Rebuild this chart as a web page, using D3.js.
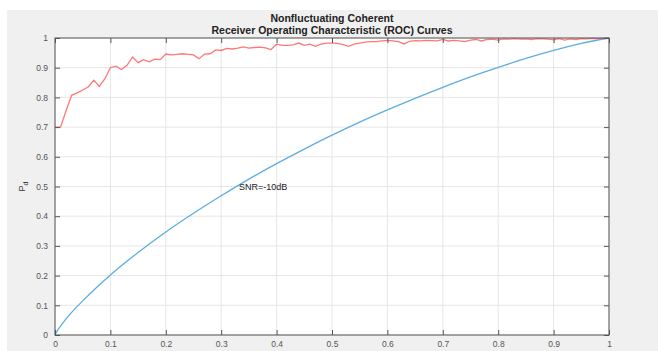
<!DOCTYPE html>
<html>
<head>
<meta charset="utf-8">
<script src="https://cdn.jsdelivr.net/npm/d3@7"></script>
<style>
  body { margin: 0; background: #fff; }
  text { font-family: "Liberation Sans", Arial, sans-serif; }
</style>
</head>
<body>
<div id="chart"></div>
<script>
// Red curve: simulated Pd vs Pfa
var pfaSim = [0.00, 0.01, 0.02, 0.03, 0.04, 0.05, 0.06, 0.07, 0.08, 0.09,
  0.10, 0.11, 0.12, 0.13, 0.14, 0.15, 0.16, 0.17, 0.18, 0.19,
  0.20, 0.21, 0.22, 0.23, 0.24, 0.25, 0.26, 0.27, 0.28, 0.29,
  0.30, 0.31, 0.32, 0.33, 0.34, 0.35, 0.36, 0.37, 0.38, 0.39,
  0.40, 0.41, 0.42, 0.43, 0.44, 0.45, 0.46, 0.47, 0.48, 0.49,
  0.50, 0.51, 0.52, 0.53, 0.54, 0.55, 0.56, 0.57, 0.58, 0.59,
  0.60, 0.61, 0.62, 0.63, 0.64, 0.65, 0.66, 0.67, 0.68, 0.69,
  0.70, 0.71, 0.72, 0.73, 0.74, 0.75, 0.76, 0.77, 0.78, 0.79,
  0.80, 0.81, 0.82, 0.83, 0.84, 0.85, 0.86, 0.87, 0.88, 0.89,
  0.90, 0.91, 0.92, 0.93, 0.94, 0.95, 0.96, 0.97, 0.98, 0.99, 1.00];
var pdSim = [0.700, 0.700, 0.755, 0.807, 0.815, 0.825, 0.835, 0.858, 0.837, 0.863,
  0.900, 0.905, 0.894, 0.908, 0.936, 0.917, 0.927, 0.920, 0.929, 0.927,
  0.946, 0.943, 0.945, 0.947, 0.945, 0.943, 0.930, 0.946, 0.947, 0.960,
  0.958, 0.965, 0.963, 0.966, 0.970, 0.966, 0.968, 0.969, 0.967, 0.961,
  0.979, 0.975, 0.975, 0.977, 0.983, 0.975, 0.979, 0.972, 0.979, 0.983,
  0.983, 0.982, 0.978, 0.972, 0.979, 0.983, 0.986, 0.988, 0.988, 0.990,
  0.992, 0.990, 0.988, 0.980, 0.989, 0.991, 0.990, 0.992, 0.991, 0.990,
  0.995, 0.990, 0.992, 0.990, 0.988, 0.993, 0.995, 0.990, 0.995, 0.996,
  0.993, 0.997, 0.996, 0.998, 0.996, 0.997, 0.995, 0.998, 0.997, 0.996,
  0.994, 0.998, 0.993, 0.997, 0.995, 0.998, 0.997, 0.999, 0.998, 0.999, 1.000];

// Blue curve: theoretical ROC at SNR = -10 dB
var pfaTheory = [0, 0.005, 0.01, 0.02, 0.03, 0.05, 0.075, 0.1, 0.15, 0.2, 0.25, 0.3,
  0.35, 0.4, 0.45, 0.5, 0.55, 0.6, 0.65, 0.7, 0.75, 0.8, 0.85, 0.9, 0.95, 1];
var pdTheory = [0, 0.017, 0.030, 0.054, 0.076, 0.115, 0.160, 0.202, 0.278, 0.347, 0.410, 0.469,
  0.525, 0.577, 0.626, 0.673, 0.717, 0.758, 0.797, 0.834, 0.869, 0.901, 0.931, 0.958, 0.982, 1];

var xTicks = [0, 0.1, 0.2, 0.3, 0.4, 0.5, 0.6, 0.7, 0.8, 0.9, 1];
var yTicks = [0, 0.1, 0.2, 0.3, 0.4, 0.5, 0.6, 0.7, 0.8, 0.9, 1];

var W = 658, H = 351;
var margin = { top: 38, right: 49, bottom: 16, left: 55 },
    width = W - margin.left - margin.right,
    height = H - margin.top - margin.bottom;

var root = d3.select("#chart").append("svg")
    .attr("width", W)
    .attr("height", H);

// figure background
root.append("rect")
    .attr("x", 7).attr("y", 10)
    .attr("width", W - 7).attr("height", H - 10)
    .attr("fill", "#f0f0f0");

var svg = root.append("g")
    .attr("transform", "translate(" + margin.left + "," + margin.top + ")");

var x = d3.scaleLinear().domain([0, 1]).range([0, width]);
var y = d3.scaleLinear().domain([0, 1]).range([height, 0]);

svg.append("rect")
    .attr("width", width).attr("height", height)
    .attr("fill", "#fff");

// grid
svg.append("g").selectAll("line").data(xTicks).enter().append("line")
    .attr("x1", function (d) { return x(d); }).attr("x2", function (d) { return x(d); })
    .attr("y1", 0).attr("y2", height)
    .attr("stroke", "#e6e6e6").attr("stroke-width", 1);
svg.append("g").selectAll("line").data(yTicks).enter().append("line")
    .attr("y1", function (d) { return y(d); }).attr("y2", function (d) { return y(d); })
    .attr("x1", 0).attr("x2", width)
    .attr("stroke", "#e6e6e6").attr("stroke-width", 1);

// curves
var line = d3.line()
    .x(function (d) { return x(d[0]); })
    .y(function (d) { return y(d[1]); });

svg.append("path")
    .datum(d3.zip(pfaTheory, pdTheory))
    .attr("d", line.curve(d3.curveMonotoneX))
    .attr("fill", "none")
    .attr("stroke", "#5eade0")
    .attr("stroke-width", 1.3);

svg.append("path")
    .datum(d3.zip(pfaSim, pdSim))
    .attr("d", line.curve(d3.curveLinear))
    .attr("fill", "none")
    .attr("stroke", "#ff7777")
    .attr("stroke-width", 1.3);

// axes (box with inward ticks on all sides)
var axisColor = "#555";
function styleAxis(g) {
    g.select(".domain").remove();
    g.selectAll("line").attr("stroke", axisColor);
    g.selectAll("text").attr("fill", "#555").style("font-size", "8.5px");
}
svg.append("g")
    .attr("transform", "translate(0," + height + ")")
    .call(d3.axisBottom(x).tickValues(xTicks).tickFormat(d3.format("~g")).tickSizeInner(-5).tickSizeOuter(0).tickPadding(6))
    .call(styleAxis);
svg.append("g")
    .call(d3.axisTop(x).tickValues(xTicks).tickFormat("").tickSizeInner(-5).tickSizeOuter(0))
    .call(styleAxis);
svg.append("g")
    .call(d3.axisLeft(y).tickValues(yTicks).tickFormat(d3.format("~g")).tickSizeInner(-5).tickSizeOuter(0).tickPadding(7))
    .call(styleAxis);
svg.append("g")
    .attr("transform", "translate(" + width + ",0)")
    .call(d3.axisRight(y).tickValues(yTicks).tickFormat("").tickSizeInner(-5).tickSizeOuter(0))
    .call(styleAxis);

svg.append("rect")
    .attr("width", width).attr("height", height)
    .attr("fill", "none")
    .attr("stroke", axisColor)
    .attr("stroke-width", 1);

// annotation
svg.append("text")
    .attr("x", x(0.332))
    .attr("y", y(0.5))
    .attr("dy", "0.35em")
    .style("font-size", "9px")
    .attr("fill", "#222")
    .text("SNR=-10dB");

// title
var title = svg.append("text")
    .attr("text-anchor", "middle")
    .style("font-size", "10.5px")
    .style("font-weight", "bold")
    .attr("fill", "#222");
title.append("tspan").attr("x", width / 2).attr("y", -16).text("Nonfluctuating Coherent");
title.append("tspan").attr("x", width / 2).attr("y", -4).text("Receiver Operating Characteristic (ROC) Curves");

// y label P_d
var yl = svg.append("text")
    .attr("transform", "translate(-30," + (height / 2) + ") rotate(-90)")
    .attr("text-anchor", "middle")
    .style("font-size", "9px")
    .attr("fill", "#333");
yl.append("tspan").text("P");
yl.append("tspan").attr("dy", 3).style("font-size", "7px").text("d");
</script>
</body>
</html>
